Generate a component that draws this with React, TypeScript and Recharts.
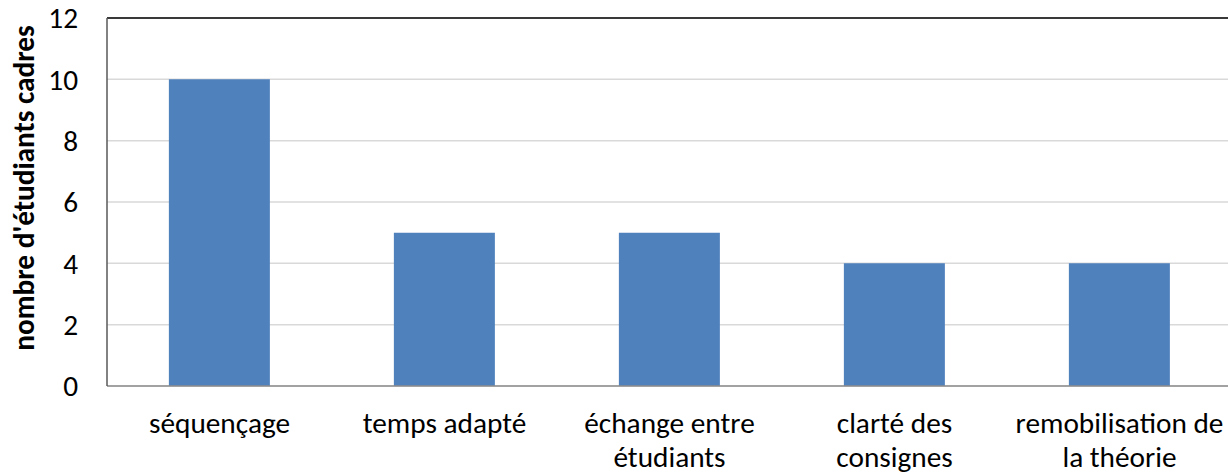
import React from "react";
import { BarChart, Bar, XAxis, YAxis, CartesianGrid, ReferenceLine } from "recharts";

const categories = ["séquençage", "temps adapté", "échange entre étudiants", "clarté des consignes", "remobilisation de la théorie"];
const values = [10, 5, 5, 4, 4];
const yTicks = [0, 2, 4, 6, 8, 10, 12];
const yTitle = "nombre d'étudiants cadres";

const data = categories.map((c, i) => ({ name: c, value: values[i] }));

const FONT = "Carlito, Calibri, 'Open Sans', Lato, sans-serif";
const FS = 29.3;

function wrap(label: string, maxChars: number): string[] {
  const words = label.split(" ");
  const lines: string[] = [];
  let cur = "";
  for (const w of words) {
    const next = cur ? cur + " " + w : w;
    if (next.length > maxChars && cur) {
      lines.push(cur);
      cur = w;
    } else cur = next;
  }
  if (cur) lines.push(cur);
  return lines;
}

const XTick = (props: any) => {
  const { x, y, payload } = props;
  const lines = wrap(String(payload.value), 17);
  return (
    <g>
      {lines.map((l, i) => (
        <text key={i} x={x} y={y + 39 + i * 34} textAnchor="middle" fill="#000" fontSize={FS} fontFamily={FONT}>
          {l}
        </text>
      ))}
    </g>
  );
};

const YLabel = () => {
  const cx = 24;
  const cy = 188;
  return (
    <text
      transform={`translate(${cx}, ${cy}) rotate(-90)`}
      textAnchor="middle"
      dominantBaseline="central"
      fontSize={FS}
      fontWeight="bold"
      fontFamily={FONT}
      fill="#000"
    >
      {yTitle}
    </text>
  );
};

export default function App() {
  return (
    <div style={{ position: "fixed", left: 0, top: 0, width: 1228, height: 474, overflow: "hidden", background: "#fff" }}>
      <BarChart width={1232} height={474} data={data} margin={{ top: 18, right: 0, bottom: 8, left: 8 }} barCategoryGap="27.5%">
        <CartesianGrid vertical={false} stroke="#d9d9d9" strokeWidth={1.5} />
        <XAxis
          dataKey="name"
          height={80}
          tickLine={false}
          axisLine={{ stroke: "#8c8c8c", strokeWidth: 1.5 }}
          tick={<XTick />}
          interval={0}
        />
        <YAxis
          width={99}
          domain={[0, 12]}
          ticks={yTicks}
          tickLine={false}
          tickSize={0}
          tickMargin={29}
          axisLine={{ stroke: "#595959", strokeWidth: 1.5 }}
          tick={{ fill: "#000", fontSize: FS, fontFamily: FONT }}
          label={<YLabel />}
        />
        <ReferenceLine y={12} stroke="#000" strokeWidth={1.5} />
        <Bar dataKey="value" fill="#4f81bd" isAnimationActive={false} />
      </BarChart>
    </div>
  );
}
